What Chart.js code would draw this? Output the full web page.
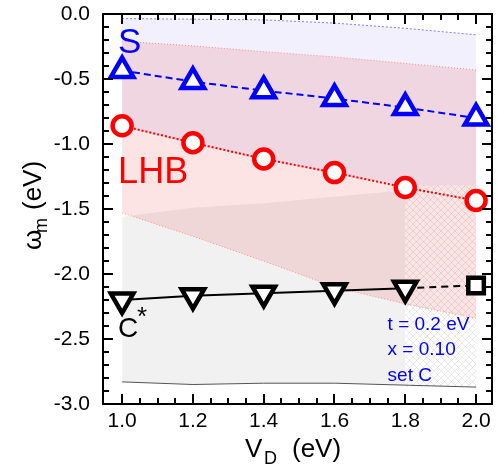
<!DOCTYPE html>
<html>
<head>
<meta charset="utf-8">
<script src="https://cdn.jsdelivr.net/npm/chart.js@4/dist/chart.umd.min.js"></script>
<style>
  body { margin: 0; background: #fff; }
  #wrap { width: 497px; height: 476px; }
</style>
</head>
<body>
<div id="wrap"><canvas id="chart" width="497" height="476"></canvas></div>
<script>
// V_D values and peak positions
const vd = [1.0, 1.2, 1.4, 1.6, 1.8, 2.0];
const sPeak = [-0.435, -0.52, -0.59, -0.65, -0.72, -0.80];
const lhbPeak = [-0.86, -0.99, -1.115, -1.22, -1.335, -1.435];
const cPeak = [-2.20, -2.167, -2.148, -2.128, -2.11, -2.088];

// shaded bands (edges)
const sTop = [-0.035, -0.04, -0.045, -0.07, -0.11, -0.16];
const sBot = [-0.87, -1.0, -1.12, -1.23, -1.32, -1.32];
const lhbTop = [-0.21, -0.245, -0.29, -0.33, -0.38, -0.43];
const lhbBot = [-1.53, -1.71, -1.90, -2.10, -2.23, -2.34];
const cVd = [1.0, 1.2, 1.4, 1.6, 1.8];
const cTop = [-1.56, -1.49, -1.455, -1.405, -1.355];
const cBot = [-2.83, -2.85, -2.84, -2.84, -2.855];
const baseLine = [-2.83, -2.85, -2.84, -2.84, -2.855, -2.87];
const hatchVd = [1.8, 2.0];
const hatchTop = [-1.32, -1.32];
const hatchBot = [-2.87, -2.87];

const xTicks = [1.0, 1.2, 1.4, 1.6, 1.8, 2.0];
const yTicks = [0, -0.5, -1.0, -1.5, -2.0, -2.5, -3.0];

const FONT = '"Liberation Sans", Arial, sans-serif';
const pts = (xs, ys) => xs.map((x, i) => ({ x: x, y: ys[i] }));

// crosshatch pattern
const pc = document.createElement('canvas');
pc.width = 7; pc.height = 7;
const pctx = pc.getContext('2d');
pctx.strokeStyle = 'rgba(120,120,120,0.2)';
pctx.lineWidth = 0.8;
pctx.beginPath();
pctx.moveTo(0, 0); pctx.lineTo(7, 7);
pctx.moveTo(0, 7); pctx.lineTo(7, 0);
pctx.stroke();
const hatch = pctx.createPattern(pc, 'repeat');

const band = (data, extra) => Object.assign({
  data: data, borderWidth: 0, pointRadius: 0, fill: false, tension: 0
}, extra);

const cStyles = ['triangle', 'triangle', 'triangle', 'triangle', 'triangle', 'rect'];

const datasets = [
  { // C*
    data: pts(vd, cPeak), borderColor: '#000', borderWidth: 2,
    pointStyle: cStyles, pointRotation: [180, 180, 180, 180, 180, 0],
    pointRadius: [13, 13, 13, 13, 13, 11],
    pointBorderWidth: 4.5, pointBorderColor: '#000', pointBackgroundColor: '#fff',
    segment: { borderDash: c => c.p0DataIndex === 4 ? [7, 5] : undefined },
    fill: false, clip: false
  },
  { // LHB
    data: pts(vd, lhbPeak), borderColor: '#ff0000', borderWidth: 2, borderDash: [2, 2],
    pointStyle: 'circle', pointRadius: 9.5, pointBorderWidth: 4.5,
    pointBorderColor: '#ff0000', pointBackgroundColor: '#fff', fill: false, clip: false
  },
  { // S
    data: pts(vd, sPeak), borderColor: '#0000ff', borderWidth: 2, borderDash: [7, 4],
    pointStyle: 'triangle', pointRadius: 13, pointBorderWidth: 4.5,
    pointBorderColor: '#0000ff', pointBackgroundColor: '#fff', fill: false, clip: false
  },
  band(pts(vd, baseLine), { borderWidth: 1, borderColor: '#555' }),
  band(pts(vd, sBot)),
  band(pts(vd, sTop), { fill: '-1', backgroundColor: '#f1f0fc', borderWidth: 1, borderColor: '#8080ff', borderDash: [2, 2] }),
  band(pts(vd, lhbBot), { borderWidth: 1, borderColor: '#ff8c8c', borderDash: [1, 2] }),
  band(pts(vd, lhbTop), { fill: '-1', backgroundColor: '#fde4e4', borderWidth: 1, borderColor: '#ff8c8c', borderDash: [1, 2] }),
  band(pts(cVd, cBot)),
  band(pts(cVd, cTop), { fill: '-1', backgroundColor: '#f1f1f1' }),
  band(pts(hatchVd, hatchBot)),
  band(pts(hatchVd, hatchTop), { fill: '-1', backgroundColor: hatch })
];

const framePlugin = {
  id: 'frame',
  beforeDraw(chart) {
    chart.ctx.globalCompositeOperation = 'multiply';
  },
  beforeDatasetsDraw(chart) {
    chart.ctx.globalCompositeOperation = 'source-over';
  },
  afterDraw(chart) {
    const ctx = chart.ctx;
    const a = chart.chartArea;
    const xs = chart.scales.x, ys = chart.scales.y;
    ctx.save();
    ctx.globalCompositeOperation = 'source-over';
    ctx.strokeStyle = '#000';
    ctx.lineWidth = 2;
    ctx.beginPath();
    for (let v = 1.0; v <= 2.0001; v += 0.05) {
      const major = Math.abs(v * 5 - Math.round(v * 5)) < 1e-6;
      const L = major ? 10 : 6;
      const px = Math.round(xs.getPixelForValue(v));
      ctx.moveTo(px, a.bottom); ctx.lineTo(px, a.bottom - L);
      ctx.moveTo(px, a.top); ctx.lineTo(px, a.top + L);
    }
    for (let v = 0; v >= -3.0001; v -= 0.1) {
      const major = Math.abs(v * 2 - Math.round(v * 2)) < 1e-6;
      const L = major ? 10 : 6;
      const py = Math.round(ys.getPixelForValue(v));
      ctx.moveTo(a.left, py); ctx.lineTo(a.left + L, py);
      ctx.moveTo(a.right, py); ctx.lineTo(a.right - L, py);
    }
    ctx.stroke();
    ctx.strokeRect(a.left, a.top, a.right - a.left, a.bottom - a.top);

    // labels inside the plot
    const X = v => xs.getPixelForValue(v);
    const Y = v => ys.getPixelForValue(v);
    ctx.textAlign = 'left';
    ctx.textBaseline = 'alphabetic';
    ctx.fillStyle = '#0000ff';
    ctx.font = '35px ' + FONT;
    ctx.fillText('S', X(1.0) - 4, Y(-0.3));
    ctx.fillStyle = '#ff0000';
    ctx.font = '36px ' + FONT;
    ctx.fillText('LHB', X(1.0) - 4, Y(-1.3));
    ctx.fillStyle = '#000';
    ctx.font = '28px ' + FONT;
    ctx.fillText('C', X(1.0) - 4, Y(-2.485));
    ctx.font = '26px ' + FONT;
    ctx.fillText('*', X(1.0) + 15, Y(-2.39));
    ctx.fillStyle = '#0000ff';
    ctx.font = '19px ' + FONT;
    ctx.fillText('t = 0.2 eV', X(1.75), Y(-2.43));
    ctx.fillText('x = 0.10', X(1.75), Y(-2.62));
    ctx.fillText('set C', X(1.75), Y(-2.82));

    // axis titles
    ctx.fillStyle = '#000';
    ctx.font = '26px ' + FONT;
    ctx.fillText('V', 245, 457);
    ctx.font = '18px ' + FONT;
    ctx.fillText('D', 264, 464);
    ctx.font = '26px ' + FONT;
    ctx.fillText('(eV)', 292, 457);

    ctx.translate(41, 250);
    ctx.rotate(-Math.PI / 2);
    ctx.font = '26px ' + FONT;
    ctx.fillText('\u03c9', 0, 0);
    ctx.font = '18px ' + FONT;
    ctx.fillText('m', 17, 6);
    ctx.font = '26px ' + FONT;
    ctx.fillText('(eV)', 40, 0);
    ctx.restore();
  }
};

new Chart(document.getElementById('chart'), {
  type: 'line',
  data: { datasets: datasets },
  options: {
    responsive: false,
    animation: false,
    layout: { autoPadding: false, padding: { left: 0, right: 5, top: 14, bottom: 0 } },
    plugins: {
      legend: { display: false },
      tooltip: { enabled: false },
      filler: { drawTime: 'beforeDatasetsDraw', propagate: false }
    },
    scales: {
      x: {
        type: 'linear', min: 0.946, max: 2.045,
        grid: { display: false, drawTicks: false },
        border: { display: false },
        afterBuildTicks: s => { s.ticks = xTicks.map(v => ({ value: v })); },
        afterFit: s => { s.height = 72; s.paddingLeft = 0; s.paddingRight = 0; },
        ticks: {
          padding: 5, color: '#000', maxRotation: 0,
          font: { family: FONT, size: 21 },
          callback: v => Number(v).toFixed(1)
        }
      },
      y: {
        type: 'linear', min: -3, max: 0,
        grid: { display: false, drawTicks: false },
        border: { display: false },
        afterBuildTicks: s => { s.ticks = yTicks.map(v => ({ value: v })); },
        afterFit: s => { s.width = 103; s.paddingTop = 0; s.paddingBottom = 0; },
        ticks: {
          padding: 13, color: '#000',
          font: { family: FONT, size: 21 },
          callback: v => Number(v).toFixed(1)
        }
      }
    }
  },
  plugins: [framePlugin]
});
</script>
</body>
</html>
